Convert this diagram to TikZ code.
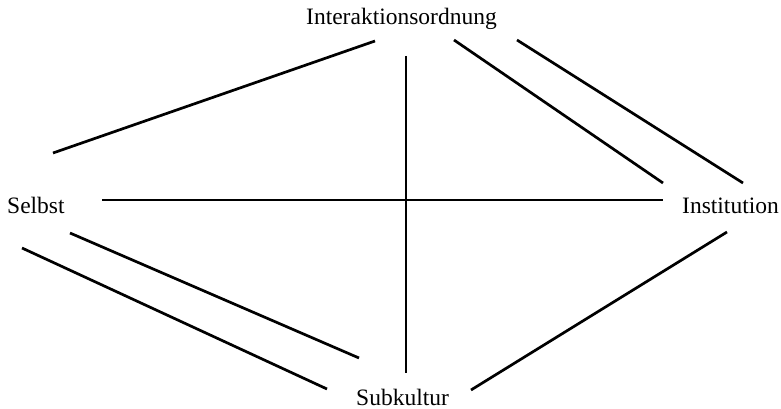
\documentclass[tikz,border=0pt]{standalone}
\usepackage{fontspec}
\setmainfont{Liberation Serif}
\begin{document}
\begin{tikzpicture}[x=1pt,y=-1pt,
  lbl/.style={anchor=base west,inner sep=0pt,font=\fontsize{23.5}{28}\selectfont},
  bar/.style={line width=2.7pt,line cap=butt}]
\useasboundingbox (0,0) rectangle (781,409);
\node[lbl] (io) at (306,25) {Interaktionsordnung};
\node[lbl] (se) at (7,213) {Selbst};
\node[lbl] (in) at (682,213) {Institution};
\node[lbl] (su) at (356,405) {Subkultur};
% coordinates
\coordinate (a1) at (53,153); \coordinate (a2) at (375,41);
\coordinate (v1) at (406,56); \coordinate (v2) at (406,373);
\coordinate (h1) at (102,200); \coordinate (h2) at (663,200);
\coordinate (b1) at (454,40); \coordinate (b2) at (663,183);
\coordinate (c1) at (517,40); \coordinate (c2) at (743,183);
\coordinate (d1) at (471,390); \coordinate (d2) at (727,232);
\coordinate (e1) at (70,233); \coordinate (e2) at (359,358);
\coordinate (f1) at (22,248); \coordinate (f2) at (327,389);
\draw[bar] (a1) -- (a2);
\draw[bar] (v1) -- (v2);
\draw[bar] (h1) -- (h2);
\draw[bar] (b1) -- (b2);
\draw[bar] (c1) -- (c2);
\draw[bar] (d1) -- (d2);
\draw[bar] (e1) -- (e2);
\draw[bar] (f1) -- (f2);
\end{tikzpicture}
\end{document}
